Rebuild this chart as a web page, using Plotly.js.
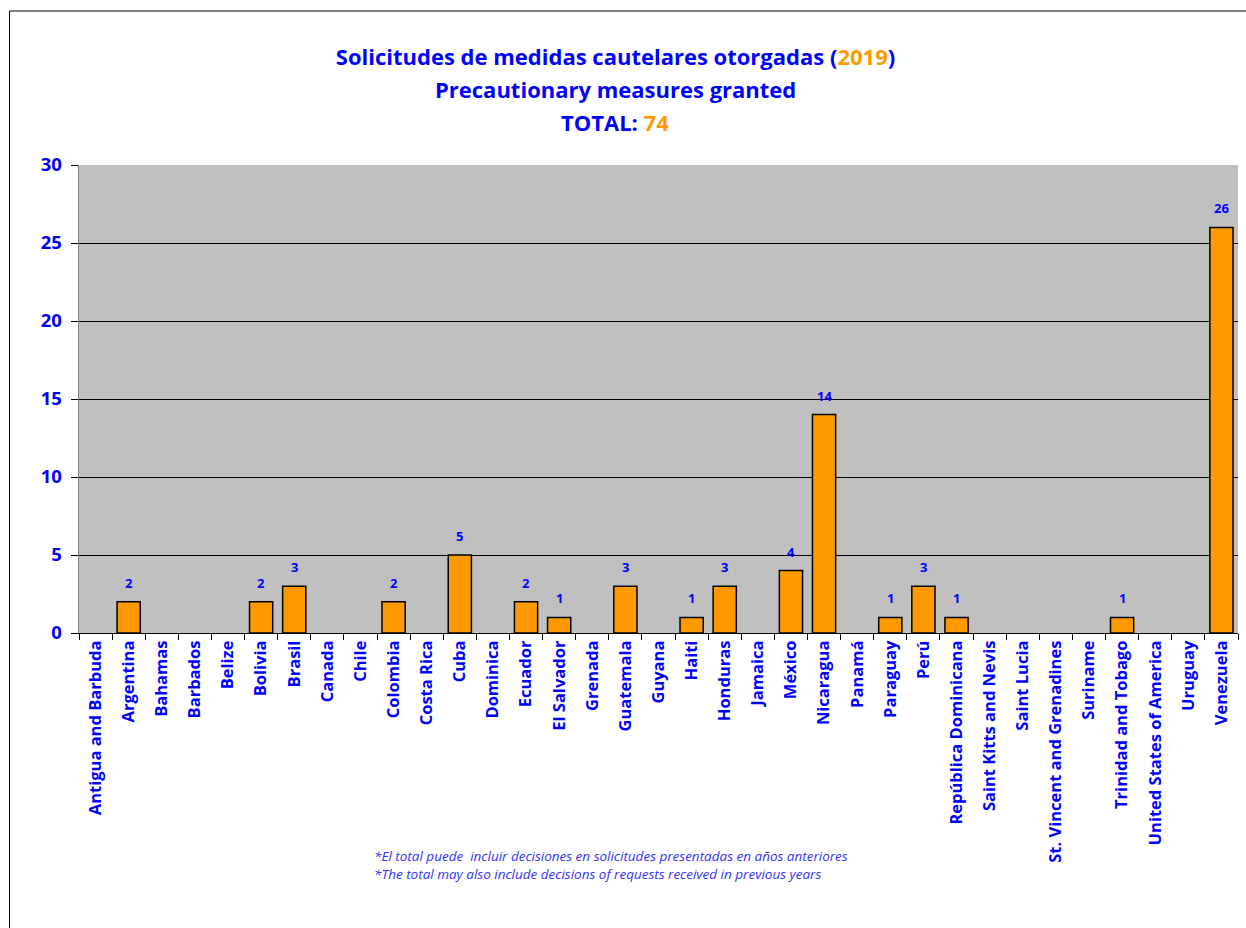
<!DOCTYPE html>
<html>
<head>
<meta charset="utf-8">
<script src="https://cdn.plot.ly/plotly-3.0.1.min.js"></script>
<style>
html,body{margin:0;padding:0;background:#fff;}
#chart{width:1246px;height:928px;}
</style>
</head>
<body>
<div id="chart"></div>
<script>
const countries = ["Antigua and Barbuda","Argentina","Bahamas","Barbados","Belize","Bolivia","Brasil","Canada","Chile","Colombia","Costa Rica","Cuba","Dominica","Ecuador","El Salvador","Grenada","Guatemala","Guyana","Haiti","Honduras","Jamaica","México","Nicaragua","Panamá","Paraguay","Perú","República Dominicana","Saint Kitts and Nevis","Saint Lucia","St. Vincent and Grenadines","Suriname","Trinidad and Tobago","United States of America","Uruguay","Venezuela"];
const granted = [0,2,0,0,0,2,3,0,0,2,0,5,0,2,1,0,3,0,1,3,0,4,14,0,1,3,1,0,0,0,0,1,0,0,26];
const yTicks = [0,5,10,15,20,25,30];
const titleLine1 = 'Solicitudes de medidas cautelares otorgadas (<span style="color:#FF9900">2019</span>)';
const titleLine2 = 'Precautionary measures granted';
const titleLine3 = 'TOTAL: <span style="color:#FF9900">74</span>';
const footnotes = ['*El total puede  incluir decisiones en solicitudes presentadas en años anteriores','*The total may also include decisions of requests received in previous years'];

const FONT = '"Open Sans", sans-serif';
const BLUE = '#0000FF';

const trace = {
  type: 'bar',
  x: countries,
  y: granted,
  marker: {color: '#FF9900', line: {color: '#000000', width: granted.map(v => v > 0 ? 1.5 : 0)}},
  hoverinfo: 'x+y'
};

const labelAnnotations = [];
countries.forEach((c, i) => {
  if (granted[i] > 0) {
    labelAnnotations.push({
      x: c, y: granted[i], xref: 'x', yref: 'y',
      text: '<b>' + granted[i] + '</b>', showarrow: false,
      yanchor: 'bottom', yshift: 8,
      font: {family: FONT, size: 13, color: BLUE}
    });
  }
});

const layout = {
  width: 1246, height: 928,
  margin: {l: 79, r: 8, t: 165, b: 295},
  paper_bgcolor: '#FFFFFF',
  plot_bgcolor: '#C0C0C0',
  showlegend: false,
  bargap: 0.3,
  title: {
    text: '<b>' + titleLine1 + '</b>',
    font: {family: FONT, size: 22, color: BLUE},
    x: 0.494, xref: 'container', xanchor: 'center',
    y: 1 - 57/928, yref: 'container', yanchor: 'middle'
  },
  xaxis: {
    type: 'category',
    tickangle: -90,
    tickfont: {family: FONT, size: 16.5, color: BLUE, weight: 'bold'},
    ticks: 'outside', ticklen: 6, tickcolor: '#000', tickson: 'boundaries',
    showline: true, linecolor: '#000', linewidth: 1,
    showgrid: false, zeroline: false
  },
  yaxis: {
    range: [0, 30],
    tickvals: yTicks,
    tickfont: {family: FONT, size: 18.5, color: BLUE, weight: 'bold'},
    ticks: 'outside', ticklen: 7, tickcolor: '#000', ticklabelstandoff: 5,
    showline: true, linecolor: '#808080', linewidth: 1.5,
    showgrid: true, gridcolor: '#000', gridwidth: 1,
    zeroline: false
  },
  annotations: [
    {text: '<b>' + titleLine2 + '</b>', xref: 'paper', yref: 'paper', x: (615-79)/1159, y: (633-89)/468, xanchor: 'center', yanchor: 'middle', showarrow: false, font: {family: FONT, size: 22, color: BLUE}},
    {text: '<b>' + titleLine3 + '</b>', xref: 'paper', yref: 'paper', x: (615-79)/1159, y: (633-122)/468, xanchor: 'center', yanchor: 'middle', showarrow: false, font: {family: FONT, size: 22, color: BLUE}},
    {text: '<i>' + footnotes[0] + '</i><br><i>' + footnotes[1] + '</i>', xref: 'paper', yref: 'paper', x: (372-79)/1159, y: (633-865)/468, xanchor: 'left', yanchor: 'middle', align: 'left', showarrow: false, font: {family: FONT, size: 13.5, color: '#3333FF'}}
  ].concat(labelAnnotations),
  shapes: [
    {type: 'rect', xref: 'paper', yref: 'paper', x0: (9.5-79)/1159, x1: (1250-79)/1159, y0: (633-940)/468, y1: (633-11)/468, line: {color: '#000', width: 1}, fillcolor: 'rgba(0,0,0,0)', layer: 'below'}
  ]
};

Plotly.newPlot('chart', [trace], layout, {displayModeBar: false, staticPlot: true});
</script>
</body>
</html>
